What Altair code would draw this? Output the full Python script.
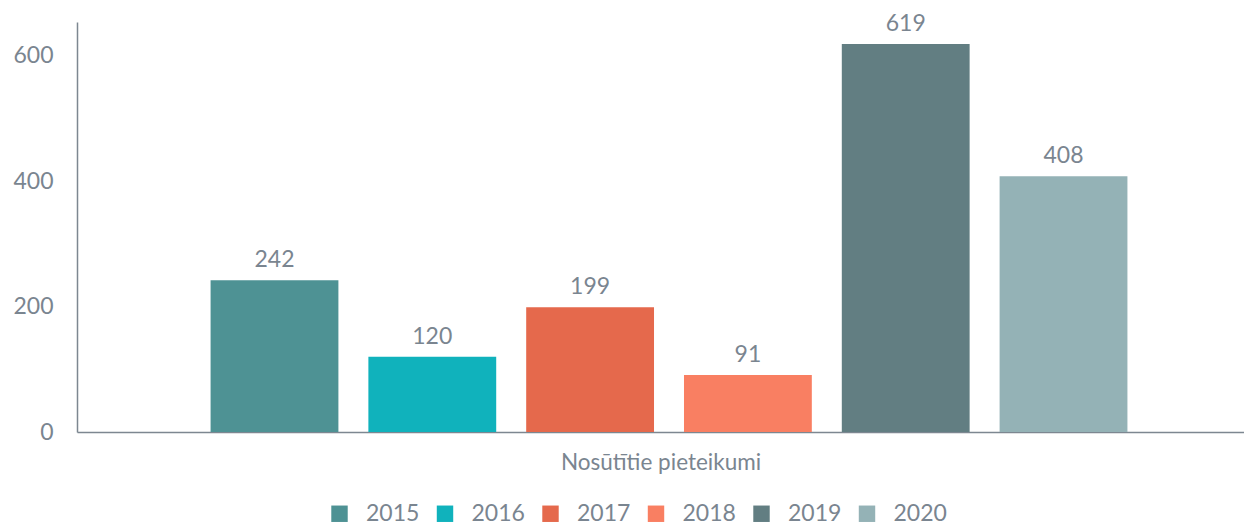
import altair as alt
import pandas as pd

years = ["2015", "2016", "2017", "2018", "2019", "2020"]
values = [242, 120, 199, 91, 619, 408]
colors = ["#4E9294", "#10B2BC", "#E5694C", "#F97F62", "#627E82", "#94B2B6"]
y_ticks = [0, 200, 400, 600]
category_title = "Nosūtītie pieteikumi"

df = pd.DataFrame({"Gads": years, "Skaits": values})

FONT = "Lato"
TXT = "#7A8590"
LINE = "#7D8791"
FS = 23

x_enc = alt.X(
    "Gads:N",
    sort=years,
    scale=alt.Scale(paddingInner=0.19, paddingOuter=0.7926, align=0.534),
    axis=alt.Axis(
        title=category_title,
        labels=False,
        ticks=False,
        domainColor=LINE,
        domainWidth=1.5,
        titleFont=FONT,
        titleFontSize=22.5,
        titleFontWeight="normal",
        titleColor=TXT,
        titlePadding=19,
    ),
)
y_enc = alt.Y(
    "Skaits:Q",
    scale=alt.Scale(domain=[0, 654], nice=False),
    axis=alt.Axis(
        title=None,
        values=y_ticks,
        grid=False,
        ticks=False,
        domainColor=LINE,
        domainWidth=1.5,
        labelFont=FONT,
        labelFontSize=FS,
        labelColor=TXT,
        labelPadding=24,
    ),
)

base = alt.Chart(df).encode(x=x_enc, y=y_enc)

bars = base.mark_bar().encode(
    color=alt.Color(
        "Gads:N",
        sort=years,
        scale=alt.Scale(domain=years, range=colors),
        legend=alt.Legend(
            title=None,
            orient="none",
            legendX=251,
            legendY=480,
            direction="horizontal",
            symbolType="square",
            symbolSize=270,
            symbolStrokeWidth=0,
            labelFont=FONT,
            labelFontSize=FS,
            labelColor=TXT,
            labelOffset=15,
            columnPadding=13.5,
        ),
    )
)

labels = base.mark_text(
    baseline="bottom", dy=-8, font=FONT, fontSize=FS, color=TXT
).encode(text="Skaits:Q")

chart = (
    (bars + labels)
    .properties(
        width=1167,
        height=410,
        background="white",
        padding={"left": 4, "top": 4, "right": 0, "bottom": 0},
    )
    .configure_view(stroke="transparent", strokeWidth=0)
)

chart.save("out.html", embed_options={"renderer": "svg", "actions": False})
